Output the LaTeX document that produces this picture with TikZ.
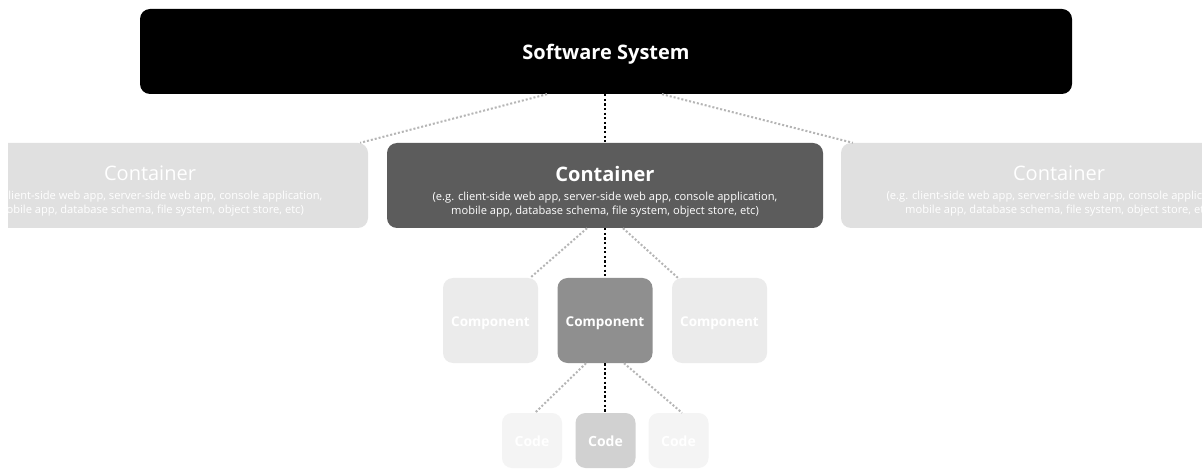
\documentclass[tikz,border=0pt]{standalone}
\usepackage{fontspec}
\setmainfont{Open Sans}
\usetikzlibrary{calc}

\definecolor{contdark}{HTML}{5C5C5C}
\definecolor{contlight}{HTML}{E0E0E0}
\definecolor{compmid}{HTML}{8F8F8F}
\definecolor{complight}{HTML}{EBEBEB}
\definecolor{codemid}{HTML}{D1D1D1}
\definecolor{codelight}{HTML}{F4F4F4}
\definecolor{greydot}{HTML}{B5B5B5}

\tikzset{
  box/.style={rectangle, rounded corners=10pt, inner sep=0pt, align=center,
              text=white},
  sysbox/.style={box, fill=black, minimum width=932pt, minimum height=85pt},
  contbox/.style={box, minimum width=436pt, minimum height=85pt},
  conttext/.style={inner sep=0pt, align=center, text=white},
  compbox/.style={box, minimum width=95pt, minimum height=85pt,
                  text height=12.4pt, text depth=0pt,
                  font=\fontsize{13.5}{16}\selectfont\bfseries},
  codebox/.style={box, minimum width=60pt, minimum height=55pt,
                  text height=11pt, text depth=0pt,
                  font=\fontsize{14}{16}\selectfont\bfseries},
  focus/.style={draw=black, line width=2.3pt, dash pattern=on 2.3pt off 2.3pt},
  faded/.style={draw=greydot, line width=2pt, dash pattern=on 2pt off 2pt},
}

\newcommand{\subfont}{\fontsize{11.15}{15}\selectfont}
\newcommand{\titlefont}{\fontsize{20}{24}\selectfont}

\begin{document}
\begin{tikzpicture}[x=1pt,y=-1pt]
  \clip (0,0) rectangle (1202,470);
  \fill[white] (0,0) rectangle (1202,470);

  % top level: the software system
  \node[sysbox] (sys) at (606,51.5) {};
  \node[conttext, font=\titlefont\bfseries] (syst) at (606,54) {Software System};

  % second level: containers
  \begin{scope}
    \clip (8,130) rectangle (1202,240);
    \fill[contlight, rounded corners=10pt] (-68,143) rectangle (368,228);
  \end{scope}
  \node[contbox] (contL) at (150,185.5) {};
  \node[contbox, fill=contdark] (contC) at (605,185.5) {};
  \node[contbox, fill=contlight] (contR) at (1059,185.5) {};

  \node[conttext] (contLt) at ($(contL.center)+(0,6)$)
    {{\titlefont Container}\\[7pt]
     \subfont (e.g. client-side web app, server-side web app, console application,\\[2pt]
     \subfont mobile app, database schema, file system, object store, etc)};
  \node[conttext] (contCt) at ($(contC.center)+(0,6)$)
    {{\titlefont\bfseries Container}\\[7pt]
     \subfont (e.g. client-side web app, server-side web app, console application,\\[2pt]
     \subfont mobile app, database schema, file system, object store, etc)};
  \node[conttext] (contRt) at ($(contR.center)+(0,6)$)
    {{\titlefont Container}\\[7pt]
     \subfont (e.g. client-side web app, server-side web app, console application,\\[2pt]
     \subfont mobile app, database schema, file system, object store, etc)};

  % third level: components
  \node[compbox, fill=complight] (compL) at (490.5,320.5) {Component};
  \node[compbox, fill=compmid]   (compC) at (605,320.5)   {Component};
  \node[compbox, fill=complight] (compR) at (719.5,320.5) {Component};

  % fourth level: code
  \node[codebox, fill=codelight] (codeL) at (532,440.5)   {Code};
  \node[codebox, fill=codemid]   (codeC) at (605.5,440.5) {Code};
  \node[codebox, fill=codelight] (codeR) at (678.5,440.5) {Code};

  % zoom connectors
  \draw[focus] (contC.north |- sys.south) -- (contC.north);
  \draw[faded] ([xshift=-59pt]sys.south) -- ([xshift=-8pt]contL.north east);
  \draw[faded] ([xshift=56pt]sys.south) -- ([xshift=12pt]contR.north west);

  \draw[focus] (contC.south) -- (compC.north);
  \draw[faded] ([xshift=-18pt]contC.south) -- ([xshift=-8pt]compL.north east);
  \draw[faded] ([xshift=18pt]contC.south) -- ([xshift=6pt]compR.north west);

  \draw[focus] (compC.south) -- (compC.south |- codeC.north);
  \draw[faded] ([xshift=-19pt]compC.south) -- ([xshift=3pt]codeL.north);
  \draw[faded] ([xshift=19pt]compC.south) -- ([xshift=3.5pt]codeR.north);
\end{tikzpicture}
\end{document}
